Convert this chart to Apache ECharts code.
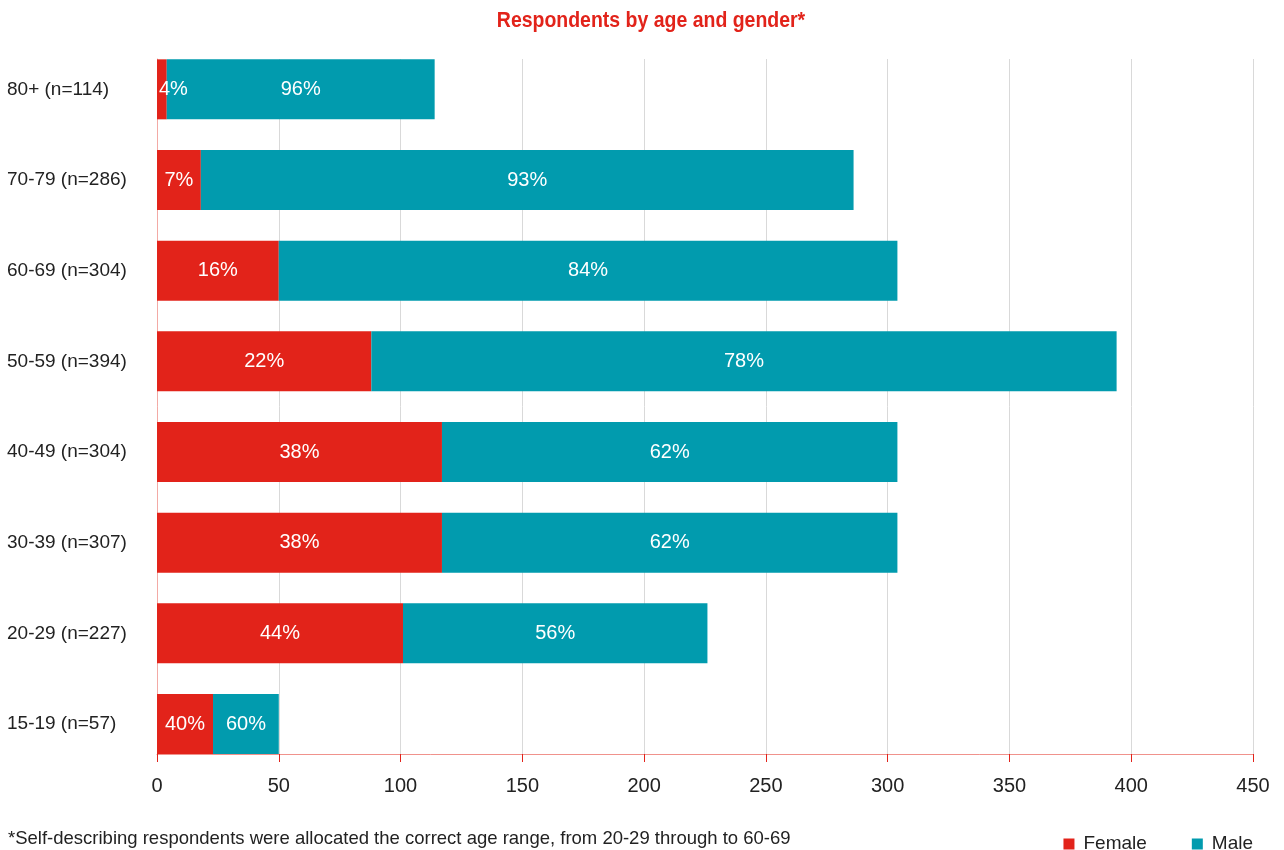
<!DOCTYPE html>
<html>
<head>
<meta charset="utf-8">
<script src="https://cdn.jsdelivr.net/npm/echarts@6/dist/echarts.min.js"></script>
<style>
  html, body { margin: 0; padding: 0; background: #ffffff; }
  #chart { width: 1284px; height: 850px; }
</style>
</head>
<body>
<div id="chart"></div>
<script>
// Age groups, listed bottom to top
const ageGroups = ['15-19 (n=57)', '20-29 (n=227)', '30-39 (n=307)', '40-49 (n=304)',
                   '50-59 (n=394)', '60-69 (n=304)', '70-79 (n=286)', '80+ (n=114)'];
// Respondent counts per group
const femaleCounts = [23, 101, 117, 117, 88, 50, 18, 4];
const maleCounts   = [27, 125, 187, 187, 306, 254, 268, 110];
// Share of each group, as printed on the bars
const femalePct = [40, 44, 38, 38, 22, 16, 7, 4];
const malePct   = [60, 56, 62, 62, 78, 84, 93, 96];
// Horizontal scale
const xTicks = { min: 0, max: 450, step: 50 };

const RED = '#e2231a';
const TEAL = '#019bae';
const FONT = '"Liberation Sans", Arial, sans-serif';

const femaleData = femaleCounts.map((v, i) => {
  // very thin bar: keep its label starting at the bar's left edge
  if (v < 10) return { value: v, label: { position: 'insideLeft', distance: 2 } };
  return v;
});

const chart = echarts.init(document.getElementById('chart'), null, { renderer: 'canvas' });

chart.setOption({
  animation: false,
  backgroundColor: '#ffffff',
  textStyle: { fontFamily: FONT },
  legend: {
    data: ['Female', 'Male'],
    right: 26,
    top: 829,
    icon: 'rect',
    itemWidth: 11,
    itemHeight: 11,
    itemGap: 45,
    textStyle: { fontFamily: FONT, fontSize: 19, lineHeight: 20, color: '#222', padding: [0, 0, 0, 4] }
  },
  graphic: [
    {
      // chart title, drawn narrow
      type: 'text',
      x: 651,
      y: 21,
      scaleX: 0.885,
      style: {
        text: 'Respondents by age and gender*',
        font: 'bold 22px "Liberation Sans", Arial, sans-serif',
        fill: RED,
        align: 'center',
        verticalAlign: 'middle'
      }
    },
    {
      type: 'text',
      left: 8,
      top: 829,
      style: {
        text: '*Self-describing respondents were allocated the correct age range, from 20-29 through to 60-69',
        font: '18.5px "Liberation Sans", Arial, sans-serif',
        fill: '#222'
      }
    }
  ],
  grid: [
    // bars
    { left: 157, right: 31, top: 44, bottom: 80.67 },
    // gridlines and axis lines
    { left: 157, right: 31, top: 59, bottom: 96 }
  ],
  xAxis: [
    {
      gridIndex: 0, type: 'value', min: xTicks.min, max: xTicks.max, interval: xTicks.step,
      show: false
    },
    {
      gridIndex: 1, type: 'value', min: xTicks.min, max: xTicks.max, interval: xTicks.step,
      axisLine: { show: true, lineStyle: { color: '#f0928c', width: 1 } },
      axisTick: { show: true, length: 8, lineStyle: { color: RED, width: 1 } },
      axisLabel: { fontFamily: FONT, fontSize: 20, color: '#222', margin: 22 },
      splitLine: { show: true, lineStyle: { color: '#d9d9d9', width: 1 } }
    }
  ],
  yAxis: [
    {
      gridIndex: 0, type: 'category', data: ageGroups,
      axisLine: { show: false },
      axisTick: { show: false },
      axisLabel: { fontFamily: FONT, fontSize: 19, color: '#222', align: 'left', margin: 150, padding: [3, 0, 0, 0] }
    },
    {
      gridIndex: 1, type: 'value', min: 0, max: 1,
      axisLine: { show: true, lineStyle: { color: '#f3aaa5', width: 1 } },
      axisTick: { show: false },
      axisLabel: { show: false },
      splitLine: { show: false }
    }
  ],
  series: [
    {
      name: 'Female',
      type: 'bar',
      stack: 'total',
      xAxisIndex: 0,
      yAxisIndex: 0,
      barWidth: 60,
      itemStyle: { color: RED },
      label: {
        show: true,
        position: 'inside',
        color: '#fff',
        fontFamily: FONT,
        fontSize: 20,
        padding: [3, 0, 0, 0],
        formatter: p => femalePct[p.dataIndex] + '%'
      },
      data: femaleData
    },
    {
      name: 'Male',
      type: 'bar',
      stack: 'total',
      xAxisIndex: 0,
      yAxisIndex: 0,
      barWidth: 60,
      itemStyle: { color: TEAL },
      label: {
        show: true,
        position: 'inside',
        color: '#fff',
        fontFamily: FONT,
        fontSize: 20,
        padding: [3, 0, 0, 0],
        formatter: p => malePct[p.dataIndex] + '%'
      },
      data: maleCounts
    }
  ]
});
</script>
</body>
</html>
